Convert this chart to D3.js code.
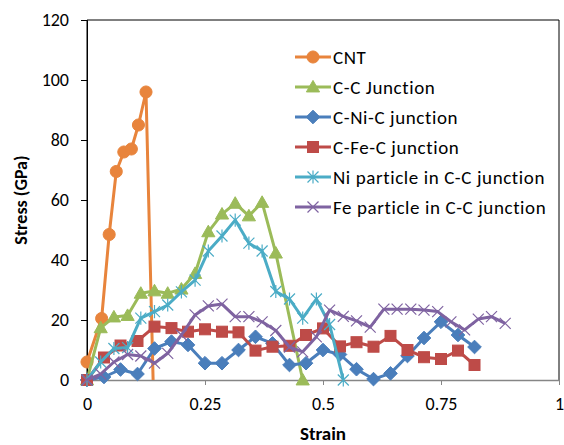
<!DOCTYPE html>
<html>
<head>
<meta charset="utf-8">
<script src="https://d3js.org/d3.v7.min.js"></script>
<style>
  body { margin: 0; background: #fff; }
  text { font-family: Carlito, Calibri, Lato, sans-serif; fill: #000; }
</style>
</head>
<body>
<div id="chart"></div>
<script>
// strain / stress values
var cntX = [0, 0.031, 0.047, 0.062, 0.078, 0.094, 0.109, 0.125, 0.141];
var cntY = [6, 20.5, 48.5, 69.5, 76, 77, 85, 96, -6];

var ccX = [0, 0.029, 0.057, 0.086, 0.114, 0.143, 0.171, 0.2, 0.229, 0.257, 0.286, 0.314, 0.343, 0.371, 0.4, 0.457];
var ccY = [0, 17.4, 21, 21.5, 28.9, 29.7, 28.9, 30.3, 35.5, 49.4, 55.3, 58.9, 54.7, 59.2, 42.3, 0];

var niJX = [0, 0.036, 0.071, 0.107, 0.143, 0.179, 0.214, 0.25, 0.286, 0.321, 0.357, 0.393, 0.429, 0.464, 0.5, 0.536, 0.571, 0.607, 0.643, 0.679, 0.714, 0.75, 0.786, 0.821];
var niJY = [0, 1, 3.5, 2, 10.5, 12.8, 11.7, 5.6, 5.6, 10, 14.4, 12.2, 5, 5.6, 10, 8.5, 3.6, 0.3, 2.2, 8, 14, 19.4, 15, 11];

var feJX = [0, 0.036, 0.071, 0.107, 0.143, 0.179, 0.214, 0.25, 0.286, 0.321, 0.357, 0.393, 0.429, 0.464, 0.5, 0.536, 0.571, 0.607, 0.643, 0.679, 0.714, 0.75, 0.786, 0.821];
var feJY = [0, 7.5, 11.5, 13, 17.8, 17.3, 16.1, 16.9, 16.1, 15.9, 9.8, 11.1, 11.4, 15, 17.2, 11.2, 12.6, 11.1, 14.7, 10, 7.6, 7, 9.8, 5];

var niPX = [0, 0.029, 0.057, 0.086, 0.114, 0.143, 0.171, 0.2, 0.229, 0.257, 0.286, 0.314, 0.343, 0.371, 0.4, 0.429, 0.457, 0.486, 0.514, 0.543];
var niPY = [0, 6, 10.5, 10.8, 20.6, 22.8, 25, 29.4, 33.3, 43, 48, 53.3, 45.6, 43, 29.5, 27, 20.6, 27, 18.5, 0];

var fePX = [0, 0.029, 0.057, 0.086, 0.114, 0.143, 0.171, 0.2, 0.229, 0.257, 0.286, 0.314, 0.343, 0.371, 0.4, 0.429, 0.457, 0.486, 0.514, 0.543, 0.571, 0.6, 0.629, 0.657, 0.686, 0.714, 0.743, 0.771, 0.8, 0.829, 0.857, 0.886];
var fePY = [0, 2, 6, 8.5, 8, 5.6, 8.9, 15, 21.7, 24.7, 25.3, 21.1, 21.1, 19.4, 16.5, 11, 9.4, 14.4, 23.3, 21.2, 19.7, 17.6, 23.6, 23.6, 23.6, 23.3, 22.8, 19.4, 16.7, 20.3, 21.1, 18.9];

var seriesNames = ["CNT", "C-C Junction", "C-Ni-C junction", "C-Fe-C junction", "Ni particle in C-C junction", "Fe particle in C-C junction"];
var seriesColors = ["#e8843c", "#9bbb59", "#4a7ebb", "#be4b48", "#4bacc6", "#7f63a1"];
var seriesMarkers = ["circle", "triangle", "diamond", "square", "star", "cross"];
var xTicks = [0, 0.25, 0.5, 0.75, 1];
var yTicks = [0, 20, 40, 60, 80, 100, 120];

var series = [
  [cntX, cntY], [ccX, ccY], [niJX, niJY], [feJX, feJY], [niPX, niPY], [fePX, fePY]
].map(function(s, i) {
  return {
    name: seriesNames[i], color: seriesColors[i], marker: seriesMarkers[i],
    points: s[0].map(function(x, j) { return { x: x, y: s[1][j] }; })
  };
});

var width = 564, height = 445;
var margin = { left: 87, top: 20, right: 5, bottom: 65 };
var w = 472, h = 360;

var svg = d3.select("#chart").append("svg")
  .attr("width", width).attr("height", height);

var x = d3.scaleLinear().domain([0, 1]).range([0, w]);
var y = d3.scaleLinear().domain([0, 120]).range([h, 0]);

var g = svg.append("g").attr("transform", "translate(" + margin.left + "," + margin.top + ")");

svg.append("defs").append("clipPath").attr("id", "plotclip")
  .append("rect").attr("x", 0).attr("y", -5).attr("width", w).attr("height", h + 5);

// plot frame
g.append("path").attr("d", "M0," + h + "V0H" + w + "V" + h)
  .attr("fill", "none").attr("stroke", "#000").attr("stroke-width", 1);

// y axis
var yAxis = g.append("g")
  .call(d3.axisLeft(y).tickValues(yTicks).tickSize(6).tickPadding(12));
yAxis.select(".domain").attr("stroke", "#000");
yAxis.selectAll(".tick line").attr("stroke", "#000");
yAxis.selectAll("text").style("font-size", "18px");

// x axis
var xAxis = g.append("g").attr("transform", "translate(0," + h + ")")
  .call(d3.axisBottom(x).tickValues(xTicks).tickFormat(d3.format("")).tickSize(5).tickSizeOuter(0).tickPadding(12));
xAxis.select(".domain").attr("stroke", "#868686").attr("stroke-width", 1.5);
xAxis.selectAll(".tick line").attr("stroke", "#868686");
xAxis.selectAll("text").style("font-size", "18px");

// axis titles
svg.append("text")
  .attr("transform", "translate(27," + (margin.top + h / 2) + ") rotate(-90)")
  .attr("text-anchor", "middle")
  .style("font-size", "18px").style("font-weight", "bold")
  .text("Stress (GPa)");

svg.append("text")
  .attr("x", margin.left + x(0.5)).attr("y", 440)
  .attr("text-anchor", "middle")
  .style("font-size", "19px").style("font-weight", "bold")
  .text("Strain");

// marker drawing
function drawMarker(sel, type, color, size) {
  var s = size;
  if (type === "circle") {
    sel.append("circle").attr("r", s * 0.55).attr("fill", color).attr("stroke", color);
  } else if (type === "triangle") {
    sel.append("path").attr("d", "M0," + (-s * 0.6) + "L" + (s * 0.6) + "," + (s * 0.45) + "L" + (-s * 0.6) + "," + (s * 0.45) + "Z")
      .attr("fill", color).attr("stroke", color);
  } else if (type === "diamond") {
    sel.append("path").attr("d", "M0," + (-s * 0.62) + "L" + (s * 0.62) + ",0L0," + (s * 0.62) + "L" + (-s * 0.62) + ",0Z")
      .attr("fill", color).attr("stroke", color);
  } else if (type === "square") {
    sel.append("rect").attr("x", -s / 2).attr("y", -s / 2).attr("width", s).attr("height", s)
      .attr("fill", color).attr("stroke", color);
  } else if (type === "star") {
    var r = s * 0.5;
    sel.append("path").attr("d", "M" + (-r) + "," + (-r) + "L" + r + "," + r + "M" + r + "," + (-r) + "L" + (-r) + "," + r + "M0," + (-r * 1.2) + "V" + (r * 1.2))
      .attr("stroke", color).attr("stroke-width", 1.2).attr("fill", "none");
  } else if (type === "cross") {
    var r2 = s * 0.5;
    sel.append("path").attr("d", "M" + (-r2) + "," + (-r2) + "L" + r2 + "," + r2 + "M" + r2 + "," + (-r2) + "L" + (-r2) + "," + r2)
      .attr("stroke", color).attr("stroke-width", 1.2).attr("fill", "none");
  }
}

var line = d3.line()
  .x(function(d) { return x(d.x); })
  .y(function(d) { return y(d.y); });

series.forEach(function(s) {
  var sg = g.append("g");
  sg.append("path").datum(s.points)
    .attr("d", line)
    .attr("clip-path", "url(#plotclip)")
    .attr("fill", "none").attr("stroke", s.color)
    .attr("stroke-width", 3).attr("stroke-linejoin", "round");
  sg.selectAll("g.pt")
    .data(s.points.filter(function(d) { return d.y >= 0; }))
    .enter().append("g")
    .attr("class", "pt")
    .attr("transform", function(d) { return "translate(" + x(d.x) + "," + y(d.y) + ")"; })
    .each(function() { drawMarker(d3.select(this), s.marker, s.color, 11); });
});

// legend
var legend = svg.append("g").attr("transform", "translate(295,57)");
series.forEach(function(s, i) {
  var lg = legend.append("g").attr("transform", "translate(0," + (i * 30) + ")");
  lg.append("line").attr("x1", 0).attr("x2", 36).attr("y1", 0).attr("y2", 0)
    .attr("stroke", s.color).attr("stroke-width", 3);
  var m = lg.append("g").attr("transform", "translate(18,0)");
  drawMarker(m, s.marker, s.color, 11);
  lg.append("text").attr("x", 38).attr("y", 0).attr("dy", "0.35em")
    .style("font-size", "19px").style("letter-spacing", "0.6px")
    .text(s.name);
});
</script>
</body>
</html>
